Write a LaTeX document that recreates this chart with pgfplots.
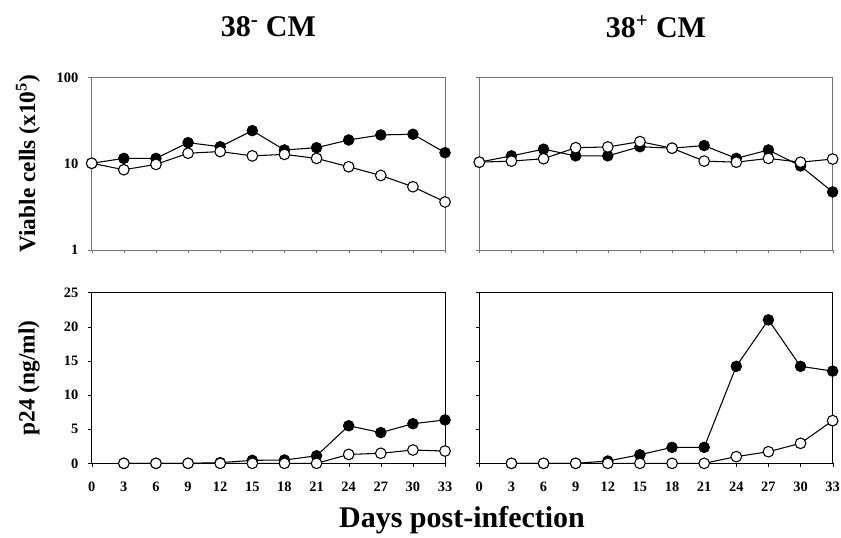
\documentclass[border=0pt]{standalone}
\usepackage{fontspec}
\setmainfont{Liberation Serif}
\usepackage{pgfplots}
\pgfplotsset{compat=1.18}

\newcommand\tickfont{\fontsize{10.8pt}{12pt}\selectfont\bfseries}
\newcommand\labfont{\fontsize{17.5pt}{19pt}\selectfont\bfseries}
\newcommand\titfont{\fontsize{22.5pt}{24pt}\selectfont\bfseries}

\pgfplotsset{
  panel/.style={
    scale only axis, width=265pt,
    xmin=0, xmax=33, xtick={0,3,...,33},
    tick align=outside, tick pos=left,
    major tick length=2.5pt,
    /pgf/number format/assume math mode=true,
    tick label style={font=\tickfont},
    xticklabel style={yshift=-8pt},
    yticklabel style={xshift=-4pt},
    clip=false,
  },
  toppanel/.style={panel, height=129.5pt, ymin=1, ymax=100,
    ytick={1,10,100}, yticklabels={1,10,100}, xticklabels={},
    yminorticks=false,
    axis line style={black!55, line width=0.6pt}, tick style={black!55}},
  botpanel/.style={panel, height=128.1pt, ymin=0, ymax=25, ytick={0,5,...,25},
    xticklabels={0,3,6,9,12,15,18,21,24,27,30,33},
    axis line style={black, line width=0.7pt}, tick style={black}},
  filled/.style={black, line width=0.8pt, mark=*, mark size=4pt,
    mark options={fill=black, draw=black, line width=0.6pt}},
  hollow/.style={black, line width=0.8pt, mark=*, mark size=4pt,
    mark options={fill=white, draw=black, line width=0.8pt}},
}

\begin{document}
\begin{tikzpicture}
\useasboundingbox (0,0) rectangle (630.75pt,-403.5pt);

% top left
\begin{axis}[ymode=log, toppanel, at={(68.78pt,-57.98pt)}, anchor=north west]
\addplot[filled] coordinates {(0,10.1)(3,11.5)(6,11.5)(9,17.5)(12,15.7)(15,24.1)(18,14.4)(21,15.3)(24,18.8)(27,21.5)(30,21.9)(33,13.4)};
\addplot[hollow] coordinates {(0,10.1)(3,8.5)(6,9.8)(9,13.2)(12,13.8)(15,12.3)(18,12.8)(21,11.5)(24,9.2)(27,7.3)(30,5.4)(33,3.6)};
\end{axis}

% top right
\begin{axis}[ymode=log, toppanel, at={(359.48pt,-57.98pt)}, anchor=north west, yticklabels={}]
\addplot[filled] coordinates {(0,10.4)(3,12.3)(6,14.7)(9,12.3)(12,12.3)(15,15.7)(18,15.1)(21,16.2)(24,11.5)(27,14.4)(30,9.4)(33,4.7)};
\addplot[hollow] coordinates {(0,10.4)(3,10.7)(6,11.4)(9,15.3)(12,15.6)(15,18)(18,15.1)(21,10.7)(24,10.4)(27,11.5)(30,10.4)(33,11.3)};
\end{axis}

% bottom left
\begin{axis}[botpanel, at={(68.78pt,-219.4pt)}, anchor=north west]
\addplot[filled] coordinates {(3,0)(6,0)(9,0)(12,0.1)(15,0.44)(18,0.49)(21,1.1)(24,5.5)(27,4.5)(30,5.8)(33,6.35)};
\addplot[hollow] coordinates {(3,0)(6,0)(9,0)(12,0)(15,0)(18,0)(21,0)(24,1.3)(27,1.47)(30,1.95)(33,1.8)};
\end{axis}

% bottom right
\begin{axis}[botpanel, at={(359.48pt,-219.4pt)}, anchor=north west, yticklabels={}]
\addplot[filled] coordinates {(3,0)(6,0)(9,0)(12,0.34)(15,1.26)(18,2.34)(21,2.34)(24,14.2)(27,21.0)(30,14.2)(33,13.5)};
\addplot[hollow] coordinates {(3,0)(6,0)(9,0)(12,0)(15,0)(18,0)(21,0)(24,0.98)(27,1.7)(30,2.93)(33,6.25)};
\end{axis}

\node[font=\titfont] at (201.3pt,-20.25pt) {38\textsuperscript{-} CM};
\node[font=\titfont] at (492pt,-20.25pt) {38\textsuperscript{+} CM};
\node[font=\labfont, rotate=90] at (21pt,-122.7pt) {Viable cells (x10\textsuperscript{5})};
\node[font=\labfont, rotate=90] at (21.75pt,-283.5pt) {p24 (ng/ml)};
\node[font=\titfont] at (346.5pt,-390pt) {Days post-infection};
\end{tikzpicture}
\end{document}
